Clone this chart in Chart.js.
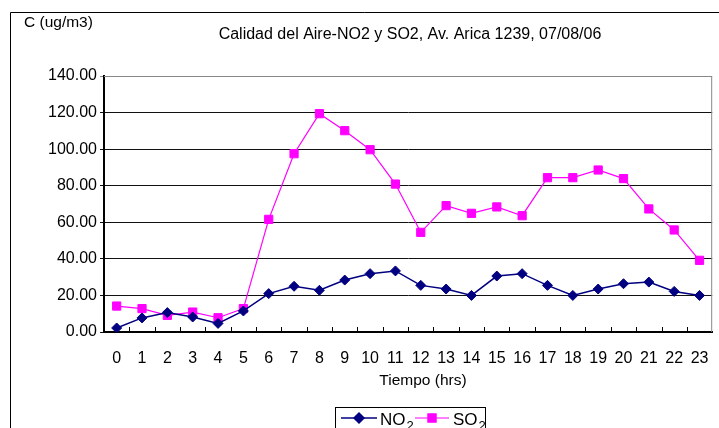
<!DOCTYPE html>
<html>
<head>
<meta charset="utf-8">
<script src="https://cdn.jsdelivr.net/npm/chart.js@4/dist/chart.umd.min.js"></script>
<style>
  html, body { margin: 0; padding: 0; background: #fff; }
  #wrap { width: 719px; height: 428px; position: relative; }
</style>
</head>
<body>
<div id="wrap"><canvas id="myChart" width="719" height="428"></canvas></div>
<script>
// data
const hours = ['0','1','2','3','4','5','6','7','8','9','10','11','12','13','14','15','16','17','18','19','20','21','22','23'];
const no2 = [2.2, 7.7, 10.6, 8.2, 4.7, 11.5, 21.0, 25.0, 22.8, 28.4, 31.9, 33.4, 25.5, 23.5, 20.0, 30.6, 31.9, 25.5, 20.0, 23.5, 26.4, 27.3, 22.2, 20.0];
const so2 = [14.2, 12.8, 9.1, 10.9, 7.8, 12.8, 61.6, 97.5, 119.4, 110.1, 99.7, 80.9, 54.5, 69.1, 64.9, 68.4, 63.6, 84.4, 84.4, 88.6, 83.9, 67.3, 55.8, 39.2];
const yMin = 0, yMax = 140, yStep = 20;

const titleText = 'Calidad del Aire-NO2 y SO2, Av. Arica 1239, 07/08/06';
const unitText = 'C (ug/m3)';
const xTitle = 'Tiempo (hrs)';

const numFont = "'Liberation Sans Narrow', 'Liberation Sans', Arial, sans-serif";
const txtFont = "'Liberation Sans', Arial, sans-serif";

// frame, texts, inward ticks and legend box
const extras = {
  id: 'extras',
  beforeDraw(chart) {
    const c = chart.ctx
    c.save()
    c.strokeStyle = '#000'
    c.lineWidth = 1
    c.beginPath()
    c.moveTo(10.5, 428)
    c.lineTo(10.5, 12.5)
    c.lineTo(719, 12.5)
    c.stroke()
    c.restore()
  },
  afterDraw(chart) {
    const c = chart.ctx
    const a = chart.chartArea
    const x = chart.scales.x
    c.save()
    // top / right border of plot area
    c.strokeStyle = '#888'
    c.lineWidth = 1
    c.beginPath()
    c.moveTo(a.left, a.top + 0.5)
    c.lineTo(a.right - 0.5, a.top + 0.5)
    c.lineTo(a.right - 0.5, a.bottom)
    c.stroke()
    // inward ticks at category boundaries
    c.strokeStyle = '#000'
    const half = (x.getPixelForValue(1) - x.getPixelForValue(0)) / 2
    c.beginPath()
    for (let i = 1; i < hours.length; i++) {
      const px = Math.round(x.getPixelForValue(i) - half) + 0.5
      c.moveTo(px, a.bottom)
      c.lineTo(px, a.bottom - 5)
    }
    c.stroke()
    // texts
    c.fillStyle = '#000'
    c.textBaseline = 'middle'
    c.font = '15.5px ' + txtFont
    c.textAlign = 'left'
    c.fillText(unitText, 24, 23)
    c.textAlign = 'center'
    c.font = '16px ' + txtFont
    c.fillText(titleText, 410, 35)
    c.font = '15.5px ' + txtFont
    c.fillText(xTitle, 423, 381)
    // legend
    c.strokeStyle = '#000'
    c.strokeRect(335.5, 407.5, 150, 40)
    const items = [[341, 377, 380], [415, 449, 453]]
    chart.data.datasets.forEach((ds, i) => {
      const [x0, x1, tx] = items[i]
      const ly = 418
      c.strokeStyle = ds.borderColor
      c.fillStyle = ds.backgroundColor
      c.lineWidth = ds.borderWidth
      c.beginPath()
      c.moveTo(x0, ly)
      c.lineTo(x1, ly)
      c.stroke()
      Chart.helpers.drawPoint(c, { pointStyle: ds.pointStyle, radius: ds.pointRadius, rotation: 0, borderWidth: 1 }, (x0 + x1) / 2, ly)
      const name = ds.label
      c.fillStyle = '#000'
      c.textAlign = 'left'
      c.textBaseline = 'alphabetic'
      c.font = '17px ' + numFont
      c.fillText(name.slice(0, 2), tx, 425)
      const w = c.measureText(name.slice(0, 2)).width
      c.font = '13px ' + numFont
      c.fillText(name.slice(2), tx + w + 1, 430)
    })
    c.restore()
  }
}

const ctx = document.getElementById('myChart')
new Chart(ctx, {
  type: 'line',
  data: {
    labels: hours,
    datasets: [{
      label: 'NO2',
      data: no2,
      borderColor: '#000080',
      backgroundColor: '#000080',
      borderWidth: 1.5,
      pointStyle: 'rectRot',
      pointRadius: 5,
      pointBorderWidth: 1
    }, {
      label: 'SO2',
      data: so2,
      borderColor: '#ff00ff',
      backgroundColor: '#ff00ff',
      borderWidth: 1.2,
      pointStyle: 'rect',
      pointRadius: 5.8,
      pointBorderWidth: 1
    }]
  },
  options: {
    responsive: false,
    animation: false,
    devicePixelRatio: 1,
    layout: { padding: { left: 0, right: 1, top: 76, bottom: 0 } },
    plugins: {
      legend: { display: false },
      title: { display: false },
      tooltip: { enabled: false }
    },
    elements: { line: { tension: 0 } },
    scales: {
      x: {
        offset: true,
        afterFit: s => { s.height = 96; s.paddingLeft = 0; s.paddingRight = 0 },
        grid: { display: true, drawOnChartArea: false, drawTicks: false },
        border: { display: true, color: '#000', width: 2 },
        ticks: { color: '#000', padding: 17, maxRotation: 0, autoSkip: false, font: { family: numFont, size: 16 } }
      },
      y: {
        min: yMin,
        max: yMax,
        afterFit: s => { s.width = 104; s.paddingTop = 0; s.paddingBottom = 0 },
        grid: {
          color: c => c.tick && c.tick.value === yMax ? '#888' : '#111',
          lineWidth: 1,
          tickLength: 4
        },
        border: { display: true, color: '#000', width: 2 },
        ticks: {
          stepSize: yStep,
          color: '#000',
          padding: 3,
          font: { family: numFont, size: 16 },
          callback: v => v.toFixed(2)
        }
      }
    }
  },
  plugins: [extras]
});
</script>
</body>
</html>
